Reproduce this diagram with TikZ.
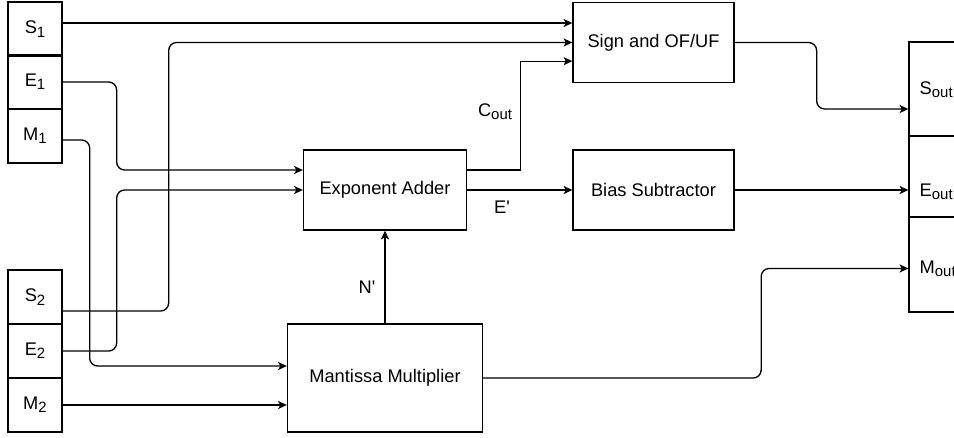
\documentclass[tikz,border=0pt]{standalone}
\usepackage{fontspec}
\setmainfont{Liberation Sans}
\usetikzlibrary{arrows.meta,positioning}

% draw.io-like subscript
\newcommand{\sbs}[1]{\raisebox{-0.35ex}{\fontsize{11.2}{12}\selectfont #1}}

\begin{document}
\begin{tikzpicture}[x=0.75pt,y=-0.75pt,
  every node/.style={font=\fontsize{13.7}{16}\selectfont},
  blk/.style={draw,line width=1pt,inner sep=0pt},
  field/.style={blk,minimum width=40.5pt,minimum height=40.5pt},
  wire/.style={line width=1pt,rounded corners=6pt},
  arr/.style={wire,-{Stealth[length=6.5pt,width=6pt,inset=1.5pt]}}]

  \clip (0,0) rectangle (954,437);

  % Operand fields
  \foreach \n/\l/\s/\y in {S1/S/1/29, E1/E/1/82, M1/M/1/136, S2/S/2/297, E2/E/2/351, M2/M/2/405} {
    \node[field] (\n) at (35,\y) {\l\sbs{\s}};
  }

  % Blocks
  \node[blk,minimum width=120.75pt,minimum height=60pt] (sg) at (653.5,42.5) {Sign and OF/UF};
  \node[blk,minimum width=122.25pt,minimum height=60pt] (ea) at (385,190) {Exponent Adder};
  \node[blk,minimum width=120.75pt,minimum height=60pt] (bs) at (653.5,190) {Bias Subtractor};
  \node[blk,minimum width=146.25pt,minimum height=81pt] (mm) at (385,378) {Mantissa Multiplier};

  % Result fields
  \node[blk,minimum width=45pt,minimum height=70.5pt] (so) at (939,89) {};
  \node[blk,minimum width=45pt,minimum height=60.75pt] (eo) at (939,176.5) {};
  \node[blk,minimum width=45pt,minimum height=71.25pt] (mo) at (939,264.5) {};
  \node[anchor=west] (sol) at (915,90) {S\sbs{out}};
  \node[anchor=west] (eol) at (915,192) {E\sbs{out}};
  \node[anchor=west] (mol) at (915,269) {M\sbs{out}};

  % Sign path
  \coordinate (s1o) at ([yshift=4.5pt]S1.east);
  \draw[arr] (s1o) -- (s1o -| sg.west);
  \draw[arr] ([yshift=-10.5pt]S2.east) -- ++(106,0) |- (sg.west);

  % Exponent path
  \draw[arr] (E1.east) -- ++(54,0) |- ([yshift=15pt]ea.west);
  \draw[arr] (E2.east) -- ++(54,0) |- (ea.west);
  \draw[arr,sharp corners] ([yshift=15pt]ea.east) -- ++(53,0) |- ([yshift=-14pt]sg.west);
  \draw[arr] (ea.east) -- (bs.west);
  \node (cout) at (495,112) {C\sbs{out}};
  \node (ep) at (502,207) {E\textquotesingle};

  % Mantissa path
  \draw[arr] ([yshift=-3pt]M1.east) -- ++(27,0) |- ([yshift=9pt]mm.west);
  \draw[arr] (M2.east) -- (M2.east -| mm.west);
  \draw[arr] (mm.north) -- (ea.south);
  \node (np) at (367,287) {N\textquotesingle};

  % Outputs
  \draw[arr] (sg.east) -- ++(82,0) |- ([yshift=-15pt]so.west);
  \draw[arr] (bs.east) -- (bs.east -| eo.west);
  \draw[arr] (mm.east) -- ++(278,0) |- ([yshift=-3pt]mo.west);
\end{tikzpicture}
\end{document}
